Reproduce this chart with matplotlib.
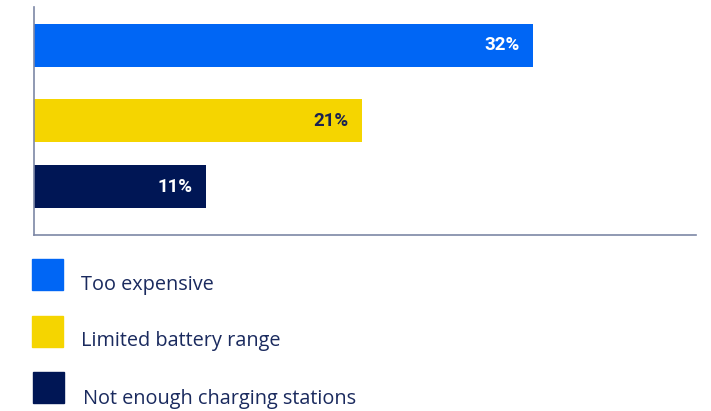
import matplotlib
matplotlib.use("Agg")
import matplotlib.pyplot as plt
from matplotlib.patches import Rectangle

categories = ["Too expensive", "Limited battery range", "Not enough charging stations"]
values = [32, 21, 11]
labels = ["32%", "21%", "11%"]
colors = ["#0066F5", "#F5D500", "#001655"]
label_colors = ["white", "#1A2352", "white"]

W, H = 711, 411
fig = plt.figure(figsize=(W / 100, H / 100), dpi=100)
ax = fig.add_axes([34 / W, 1 - 235 / H, (696 - 34) / W, (235 - 7) / H])

# layout: bar centres measured from the top of the axes (pixels)
centres = [38.5, 113.5, 179.5]
ax.barh(centres, values, height=43, color=colors)
ax.set_ylim(228, 0)
ax.set_xlim(0, 662 / 15.6)

for c, v, lab, lc in zip(centres, values, labels, label_colors):
    ax.text(v - 0.85, c, lab, ha="right", va="center", color=lc,
            fontsize=13.5, fontweight="bold", family="Roboto")

for s in ["top", "right"]:
    ax.spines[s].set_visible(False)
for s in ["left", "bottom"]:
    ax.spines[s].set_color("#7D87A6")
    ax.spines[s].set_linewidth(1.2)
ax.set_xticks([])
ax.set_yticks([])

# legend
sq_tops = [259, 316, 372]
sq_lefts = [32, 32, 33]
text_x = [81, 81, 83]
text_y = [285, 341, 399]
for t, l, tx, ty, col, cat in zip(sq_tops, sq_lefts, text_x, text_y, colors, categories):
    fig.add_artist(Rectangle((l / W, 1 - (t + 31) / H), 31 / W, 31 / H,
                             transform=fig.transFigure, color=col))
    fig.text(tx / W, 1 - ty / H, cat, ha="left", va="center",
             fontsize=14.3, color="#1A2A5E", family="Open Sans")

fig.savefig("out.png", dpi=100)
